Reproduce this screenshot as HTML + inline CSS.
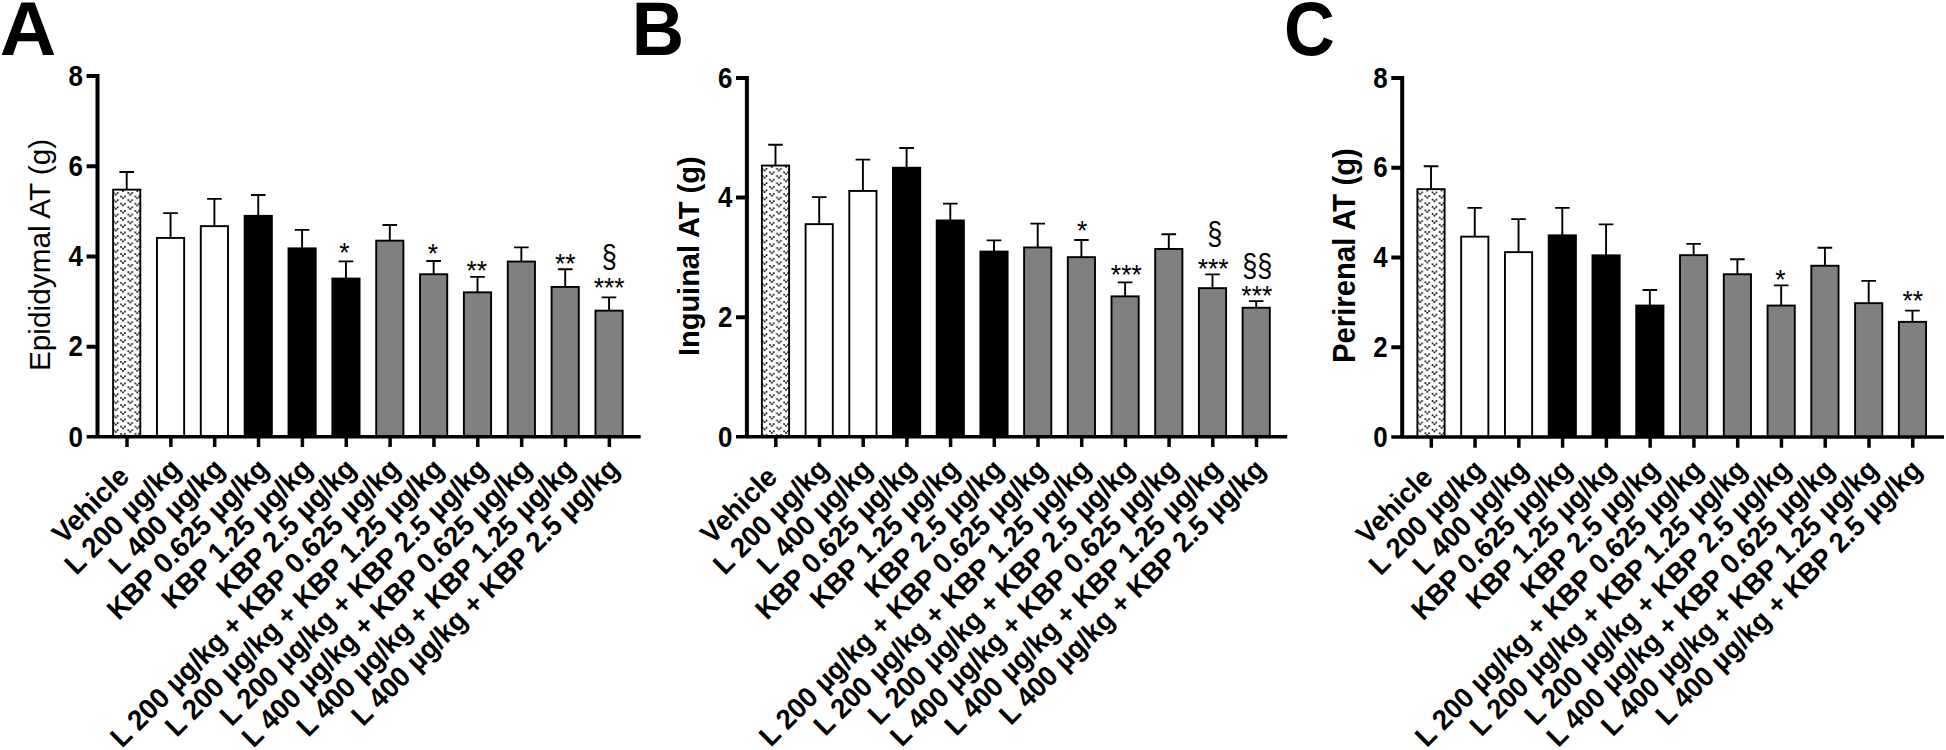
<!DOCTYPE html>
<html lang="en"><head><meta charset="utf-8"><title>Adipose tissue weights</title>
<style>html,body{margin:0;padding:0;background:#fff;}body{width:1946px;height:750px;overflow:hidden;}svg{display:block;}text{font-family:"Liberation Sans", sans-serif;fill:#000;}</style></head><body>
<svg width="1946" height="750" viewBox="0 0 1946 750">
<defs><pattern id="dots0" patternUnits="userSpaceOnUse" width="14.3" height="7.19" x="108.7" y="191.1"><g fill="#000"><circle cx="5.2" cy="1.8" r="0.9"/><circle cx="7.15" cy="3.7" r="0.9"/><circle cx="9.1" cy="1.8" r="0.9"/><path d="M5.2 1.8 L7.15 3.7 L9.1 1.8" stroke="#000" stroke-width="0.6" fill="none"/><circle cx="-1.95" cy="5.4" r="0.9"/><circle cx="0" cy="7.29" r="0.9"/><circle cx="1.95" cy="5.4" r="0.9"/><path d="M-1.95 5.4 L0 7.29 L1.95 5.4" stroke="#000" stroke-width="0.6" fill="none"/><circle cx="12.35" cy="5.4" r="0.9"/><circle cx="14.3" cy="7.29" r="0.9"/><circle cx="16.25" cy="5.4" r="0.9"/><path d="M12.35 5.4 L14.3 7.29 L16.25 5.4" stroke="#000" stroke-width="0.6" fill="none"/><circle cx="-1.95" cy="-1.8" r="0.9"/><circle cx="0" cy="0.1" r="0.9"/><circle cx="1.95" cy="-1.8" r="0.9"/><path d="M-1.95 -1.8 L0 0.1 L1.95 -1.8" stroke="#000" stroke-width="0.6" fill="none"/><circle cx="12.35" cy="-1.8" r="0.9"/><circle cx="14.3" cy="0.1" r="0.9"/><circle cx="16.25" cy="-1.8" r="0.9"/><path d="M12.35 -1.8 L14.3 0.1 L16.25 -1.8" stroke="#000" stroke-width="0.6" fill="none"/></g></pattern><pattern id="dots1" patternUnits="userSpaceOnUse" width="14.3" height="7.19" x="757.5" y="167"><g fill="#000"><circle cx="5.2" cy="1.8" r="0.9"/><circle cx="7.15" cy="3.7" r="0.9"/><circle cx="9.1" cy="1.8" r="0.9"/><path d="M5.2 1.8 L7.15 3.7 L9.1 1.8" stroke="#000" stroke-width="0.6" fill="none"/><circle cx="-1.95" cy="5.4" r="0.9"/><circle cx="0" cy="7.29" r="0.9"/><circle cx="1.95" cy="5.4" r="0.9"/><path d="M-1.95 5.4 L0 7.29 L1.95 5.4" stroke="#000" stroke-width="0.6" fill="none"/><circle cx="12.35" cy="5.4" r="0.9"/><circle cx="14.3" cy="7.29" r="0.9"/><circle cx="16.25" cy="5.4" r="0.9"/><path d="M12.35 5.4 L14.3 7.29 L16.25 5.4" stroke="#000" stroke-width="0.6" fill="none"/><circle cx="-1.95" cy="-1.8" r="0.9"/><circle cx="0" cy="0.1" r="0.9"/><circle cx="1.95" cy="-1.8" r="0.9"/><path d="M-1.95 -1.8 L0 0.1 L1.95 -1.8" stroke="#000" stroke-width="0.6" fill="none"/><circle cx="12.35" cy="-1.8" r="0.9"/><circle cx="14.3" cy="0.1" r="0.9"/><circle cx="16.25" cy="-1.8" r="0.9"/><path d="M12.35 -1.8 L14.3 0.1 L16.25 -1.8" stroke="#000" stroke-width="0.6" fill="none"/></g></pattern><pattern id="dots2" patternUnits="userSpaceOnUse" width="14.3" height="7.19" x="1413" y="190.6"><g fill="#000"><circle cx="5.2" cy="1.8" r="0.9"/><circle cx="7.15" cy="3.7" r="0.9"/><circle cx="9.1" cy="1.8" r="0.9"/><path d="M5.2 1.8 L7.15 3.7 L9.1 1.8" stroke="#000" stroke-width="0.6" fill="none"/><circle cx="-1.95" cy="5.4" r="0.9"/><circle cx="0" cy="7.29" r="0.9"/><circle cx="1.95" cy="5.4" r="0.9"/><path d="M-1.95 5.4 L0 7.29 L1.95 5.4" stroke="#000" stroke-width="0.6" fill="none"/><circle cx="12.35" cy="5.4" r="0.9"/><circle cx="14.3" cy="7.29" r="0.9"/><circle cx="16.25" cy="5.4" r="0.9"/><path d="M12.35 5.4 L14.3 7.29 L16.25 5.4" stroke="#000" stroke-width="0.6" fill="none"/><circle cx="-1.95" cy="-1.8" r="0.9"/><circle cx="0" cy="0.1" r="0.9"/><circle cx="1.95" cy="-1.8" r="0.9"/><path d="M-1.95 -1.8 L0 0.1 L1.95 -1.8" stroke="#000" stroke-width="0.6" fill="none"/><circle cx="12.35" cy="-1.8" r="0.9"/><circle cx="14.3" cy="0.1" r="0.9"/><circle cx="16.25" cy="-1.8" r="0.9"/><path d="M12.35 -1.8 L14.3 0.1 L16.25 -1.8" stroke="#000" stroke-width="0.6" fill="none"/></g></pattern></defs>
<rect width="1946" height="750" fill="#fff"/>
<g>
<text transform="translate(-0.2 55) scale(1.08 1.04)" font-size="72.5" font-weight="bold">A</text>
<path d="M126.7 189.65 V172 M119.4 172 H134" stroke="#000" stroke-width="1.9" fill="none"/>
<rect x="113.1" y="189.65" width="27.2" height="247.2" fill="url(#dots0)" stroke="#000" stroke-width="1.9"/>
<path d="M170.55 237.95 V213.1 M163.25 213.1 H177.85" stroke="#000" stroke-width="1.9" fill="none"/>
<rect x="156.95" y="237.95" width="27.2" height="198.9" fill="#fff" stroke="#000" stroke-width="1.9"/>
<path d="M214.4 226.15 V198.9 M207.1 198.9 H221.7" stroke="#000" stroke-width="1.9" fill="none"/>
<rect x="200.8" y="226.15" width="27.2" height="210.7" fill="#fff" stroke="#000" stroke-width="1.9"/>
<path d="M258.25 215.85 V195 M250.95 195 H265.55" stroke="#000" stroke-width="1.9" fill="none"/>
<rect x="244.65" y="215.85" width="27.2" height="221" fill="#000" stroke="#000" stroke-width="1.9"/>
<path d="M302.1 248.35 V229.9 M294.8 229.9 H309.4" stroke="#000" stroke-width="1.9" fill="none"/>
<rect x="288.5" y="248.35" width="27.2" height="188.5" fill="#000" stroke="#000" stroke-width="1.9"/>
<path d="M345.95 278.55 V261.4 M338.65 261.4 H353.25" stroke="#000" stroke-width="1.9" fill="none"/>
<rect x="332.35" y="278.55" width="27.2" height="158.3" fill="#000" stroke="#000" stroke-width="1.9"/>
<path d="M389.8 240.65 V225 M382.5 225 H397.1" stroke="#000" stroke-width="1.9" fill="none"/>
<rect x="376.2" y="240.65" width="27.2" height="196.2" fill="#808080" stroke="#000" stroke-width="1.9"/>
<path d="M433.65 274.25 V261 M426.35 261 H440.95" stroke="#000" stroke-width="1.9" fill="none"/>
<rect x="420.05" y="274.25" width="27.2" height="162.6" fill="#808080" stroke="#000" stroke-width="1.9"/>
<path d="M477.5 292.35 V276.9 M470.2 276.9 H484.8" stroke="#000" stroke-width="1.9" fill="none"/>
<rect x="463.9" y="292.35" width="27.2" height="144.5" fill="#808080" stroke="#000" stroke-width="1.9"/>
<path d="M521.35 261.55 V247.4 M514.05 247.4 H528.65" stroke="#000" stroke-width="1.9" fill="none"/>
<rect x="507.75" y="261.55" width="27.2" height="175.3" fill="#808080" stroke="#000" stroke-width="1.9"/>
<path d="M565.2 286.95 V269.3 M557.9 269.3 H572.5" stroke="#000" stroke-width="1.9" fill="none"/>
<rect x="551.6" y="286.95" width="27.2" height="149.9" fill="#808080" stroke="#000" stroke-width="1.9"/>
<path d="M609.05 310.65 V297.4 M601.75 297.4 H616.35" stroke="#000" stroke-width="1.9" fill="none"/>
<rect x="595.45" y="310.65" width="27.2" height="126.2" fill="#808080" stroke="#000" stroke-width="1.9"/>
<path d="M97.5 74 V436.85" stroke="#000" stroke-width="4" fill="none"/>
<path d="M86.6 436.85 H640.7" stroke="#000" stroke-width="3.5" fill="none"/>
<path d="M86.6 346.64 H97.5 M86.6 256.43 H97.5 M86.6 166.21 H97.5 M86.6 76 H97.5" stroke="#000" stroke-width="4" fill="none"/>
<text transform="translate(83 446.55) scale(0.95 1.095)" font-size="27.3" font-weight="bold" text-anchor="end">0</text>
<text transform="translate(83 356.34) scale(0.95 1.095)" font-size="27.3" font-weight="bold" text-anchor="end">2</text>
<text transform="translate(83 266.12) scale(0.95 1.095)" font-size="27.3" font-weight="bold" text-anchor="end">4</text>
<text transform="translate(83 175.91) scale(0.95 1.095)" font-size="27.3" font-weight="bold" text-anchor="end">6</text>
<text transform="translate(83 85.7) scale(0.95 1.095)" font-size="27.3" font-weight="bold" text-anchor="end">8</text>
<path d="M127 436.85 V447 M170.85 436.85 V447 M214.7 436.85 V447 M258.55 436.85 V447 M302.4 436.85 V447 M346.25 436.85 V447 M390.1 436.85 V447 M433.95 436.85 V447 M477.8 436.85 V447 M521.65 436.85 V447 M565.5 436.85 V447 M609.35 436.85 V447" stroke="#000" stroke-width="3.5" fill="none"/>
<text transform="translate(130.8 478.25) rotate(-44.87) scale(1 1.04)" font-size="27.45" font-weight="bold" text-anchor="end">Vehicle</text>
<text transform="translate(182.35 470.55) rotate(-44.87) scale(1 1.04)" font-size="27.45" font-weight="bold" text-anchor="end">L 200 µg/kg</text>
<text transform="translate(226.2 470.55) rotate(-44.87) scale(1 1.04)" font-size="27.45" font-weight="bold" text-anchor="end">L 400 µg/kg</text>
<text transform="translate(270.05 470.55) rotate(-44.87) scale(1 1.04)" font-size="27.45" font-weight="bold" text-anchor="end">KBP 0.625 µg/kg</text>
<text transform="translate(313.9 470.55) rotate(-44.87) scale(1 1.04)" font-size="27.45" font-weight="bold" text-anchor="end">KBP 1.25 µg/kg</text>
<text transform="translate(357.75 470.55) rotate(-44.87) scale(1 1.04)" font-size="27.45" font-weight="bold" text-anchor="end">KBP 2.5 µg/kg</text>
<text transform="translate(401.6 470.55) rotate(-44.87) scale(1 1.04)" font-size="27.45" font-weight="bold" text-anchor="end">L 200 µg/kg + KBP 0.625 µg/kg</text>
<text transform="translate(445.45 470.55) rotate(-44.87) scale(1 1.04)" font-size="27.45" font-weight="bold" text-anchor="end">L 200 µg/kg + KBP 1.25 µg/kg</text>
<text transform="translate(489.3 470.55) rotate(-44.87) scale(1 1.04)" font-size="27.45" font-weight="bold" text-anchor="end">L 200 µg/kg + KBP 2.5 µg/kg</text>
<text transform="translate(533.15 470.55) rotate(-44.87) scale(1 1.04)" font-size="27.45" font-weight="bold" text-anchor="end">L 400 µg/kg + KBP 0.625 µg/kg</text>
<text transform="translate(577 470.55) rotate(-44.87) scale(1 1.04)" font-size="27.45" font-weight="bold" text-anchor="end">L 400 µg/kg + KBP 1.25 µg/kg</text>
<text transform="translate(620.85 470.55) rotate(-44.87) scale(1 1.04)" font-size="27.45" font-weight="bold" text-anchor="end">L 400 µg/kg + KBP 2.5 µg/kg</text>
<text transform="translate(49.7 254.9) rotate(-90) scale(1 1.01)" font-size="29.8" text-anchor="middle">Epididymal AT (g)</text>
<text transform="translate(344.5 261.8) scale(1 1.04)" font-size="26.5" text-anchor="middle">*</text>
<text transform="translate(432.8 263.2) scale(1 1.04)" font-size="26.5" text-anchor="middle">*</text>
<text transform="translate(476.7 280) scale(1 1.04)" font-size="26.5" text-anchor="middle">**</text>
<text transform="translate(565.3 272.5) scale(1 1.04)" font-size="26.5" text-anchor="middle">**</text>
<text transform="translate(609.2 297.2) scale(1 1.04)" font-size="26.5" text-anchor="middle">***</text>
<text transform="translate(609.2 266.8) scale(1.03 1.2)" font-size="26.3" text-anchor="middle">§</text>
</g>
<g>
<text transform="translate(631.8 55.3) scale(1 1.04)" font-size="72.5" font-weight="bold">B</text>
<path d="M775.5 165.55 V144.8 M768.2 144.8 H782.8" stroke="#000" stroke-width="1.9" fill="none"/>
<rect x="761.9" y="165.55" width="27.2" height="271.3" fill="url(#dots1)" stroke="#000" stroke-width="1.9"/>
<path d="M819.2 224.15 V197.1 M811.9 197.1 H826.5" stroke="#000" stroke-width="1.9" fill="none"/>
<rect x="805.6" y="224.15" width="27.2" height="212.7" fill="#fff" stroke="#000" stroke-width="1.9"/>
<path d="M862.9 190.95 V159.6 M855.6 159.6 H870.2" stroke="#000" stroke-width="1.9" fill="none"/>
<rect x="849.3" y="190.95" width="27.2" height="245.9" fill="#fff" stroke="#000" stroke-width="1.9"/>
<path d="M906.6 167.75 V148 M899.3 148 H913.9" stroke="#000" stroke-width="1.9" fill="none"/>
<rect x="893" y="167.75" width="27.2" height="269.1" fill="#000" stroke="#000" stroke-width="1.9"/>
<path d="M950.3 220.45 V203.6 M943 203.6 H957.6" stroke="#000" stroke-width="1.9" fill="none"/>
<rect x="936.7" y="220.45" width="27.2" height="216.4" fill="#000" stroke="#000" stroke-width="1.9"/>
<path d="M994 251.55 V240.4 M986.7 240.4 H1001.3" stroke="#000" stroke-width="1.9" fill="none"/>
<rect x="980.4" y="251.55" width="27.2" height="185.3" fill="#000" stroke="#000" stroke-width="1.9"/>
<path d="M1037.7 247.45 V223.6 M1030.4 223.6 H1045" stroke="#000" stroke-width="1.9" fill="none"/>
<rect x="1024.1" y="247.45" width="27.2" height="189.4" fill="#808080" stroke="#000" stroke-width="1.9"/>
<path d="M1081.4 257.15 V240 M1074.1 240 H1088.7" stroke="#000" stroke-width="1.9" fill="none"/>
<rect x="1067.8" y="257.15" width="27.2" height="179.7" fill="#808080" stroke="#000" stroke-width="1.9"/>
<path d="M1125.1 296.35 V282.4 M1117.8 282.4 H1132.4" stroke="#000" stroke-width="1.9" fill="none"/>
<rect x="1111.5" y="296.35" width="27.2" height="140.5" fill="#808080" stroke="#000" stroke-width="1.9"/>
<path d="M1168.8 248.95 V234.2 M1161.5 234.2 H1176.1" stroke="#000" stroke-width="1.9" fill="none"/>
<rect x="1155.2" y="248.95" width="27.2" height="187.9" fill="#808080" stroke="#000" stroke-width="1.9"/>
<path d="M1212.5 288.15 V274.4 M1205.2 274.4 H1219.8" stroke="#000" stroke-width="1.9" fill="none"/>
<rect x="1198.9" y="288.15" width="27.2" height="148.7" fill="#808080" stroke="#000" stroke-width="1.9"/>
<path d="M1256.2 307.75 V301.1 M1248.9 301.1 H1263.5" stroke="#000" stroke-width="1.9" fill="none"/>
<rect x="1242.6" y="307.75" width="27.2" height="129.1" fill="#808080" stroke="#000" stroke-width="1.9"/>
<path d="M746.9 76 V436.85" stroke="#000" stroke-width="4" fill="none"/>
<path d="M736 436.85 H1287.2" stroke="#000" stroke-width="3.5" fill="none"/>
<path d="M736 317.23 H746.9 M736 197.62 H746.9 M736 78 H746.9" stroke="#000" stroke-width="4" fill="none"/>
<text transform="translate(732.4 446.55) scale(0.95 1.095)" font-size="27.3" font-weight="bold" text-anchor="end">0</text>
<text transform="translate(732.4 326.93) scale(0.95 1.095)" font-size="27.3" font-weight="bold" text-anchor="end">2</text>
<text transform="translate(732.4 207.32) scale(0.95 1.095)" font-size="27.3" font-weight="bold" text-anchor="end">4</text>
<text transform="translate(732.4 87.7) scale(0.95 1.095)" font-size="27.3" font-weight="bold" text-anchor="end">6</text>
<path d="M775.8 436.85 V447 M819.5 436.85 V447 M863.2 436.85 V447 M906.9 436.85 V447 M950.6 436.85 V447 M994.3 436.85 V447 M1038 436.85 V447 M1081.7 436.85 V447 M1125.4 436.85 V447 M1169.1 436.85 V447 M1212.8 436.85 V447 M1256.5 436.85 V447" stroke="#000" stroke-width="3.5" fill="none"/>
<text transform="translate(778.8 478.75) rotate(-44.87) scale(1 1.04)" font-size="27.3" font-weight="bold" text-anchor="end">Vehicle</text>
<text transform="translate(830.2 471.05) rotate(-44.87) scale(1 1.04)" font-size="27.3" font-weight="bold" text-anchor="end">L 200 µg/kg</text>
<text transform="translate(873.9 471.05) rotate(-44.87) scale(1 1.04)" font-size="27.3" font-weight="bold" text-anchor="end">L 400 µg/kg</text>
<text transform="translate(917.6 471.05) rotate(-44.87) scale(1 1.04)" font-size="27.3" font-weight="bold" text-anchor="end">KBP 0.625 µg/kg</text>
<text transform="translate(961.3 471.05) rotate(-44.87) scale(1 1.04)" font-size="27.3" font-weight="bold" text-anchor="end">KBP 1.25 µg/kg</text>
<text transform="translate(1005 471.05) rotate(-44.87) scale(1 1.04)" font-size="27.3" font-weight="bold" text-anchor="end">KBP 2.5 µg/kg</text>
<text transform="translate(1048.7 471.05) rotate(-44.87) scale(1 1.04)" font-size="27.3" font-weight="bold" text-anchor="end">L 200 µg/kg + KBP 0.625 µg/kg</text>
<text transform="translate(1092.4 471.05) rotate(-44.87) scale(1 1.04)" font-size="27.3" font-weight="bold" text-anchor="end">L 200 µg/kg + KBP 1.25 µg/kg</text>
<text transform="translate(1136.1 471.05) rotate(-44.87) scale(1 1.04)" font-size="27.3" font-weight="bold" text-anchor="end">L 200 µg/kg + KBP 2.5 µg/kg</text>
<text transform="translate(1179.8 471.05) rotate(-44.87) scale(1 1.04)" font-size="27.3" font-weight="bold" text-anchor="end">L 400 µg/kg + KBP 0.625 µg/kg</text>
<text transform="translate(1223.5 471.05) rotate(-44.87) scale(1 1.04)" font-size="27.3" font-weight="bold" text-anchor="end">L 400 µg/kg + KBP 1.25 µg/kg</text>
<text transform="translate(1267.2 471.05) rotate(-44.87) scale(1 1.04)" font-size="27.3" font-weight="bold" text-anchor="end">L 400 µg/kg + KBP 2.5 µg/kg</text>
<text transform="translate(699 256.25) rotate(-90) scale(1 1.04)" font-size="29" font-weight="bold" text-anchor="middle">Inguinal AT (g)</text>
<text transform="translate(1082.2 240.1) scale(1 1.04)" font-size="26.5" text-anchor="middle">*</text>
<text transform="translate(1126.3 284) scale(1 1.04)" font-size="26.5" text-anchor="middle">***</text>
<text transform="translate(1213.1 277.5) scale(1 1.04)" font-size="26.5" text-anchor="middle">***</text>
<text transform="translate(1214.8 244.1) scale(1.03 1.2)" font-size="26.3" text-anchor="middle">§</text>
<text transform="translate(1256.8 305.1) scale(1 1.04)" font-size="26.5" text-anchor="middle">***</text>
<text transform="translate(1257.3 276.1) scale(1.03 1.2)" font-size="26.3" text-anchor="middle">§§</text>
</g>
<g>
<text transform="translate(1284 55.3) scale(0.97 1.04)" font-size="72.5" font-weight="bold">C</text>
<path d="M1431 189.15 V166.3 M1423.7 166.3 H1438.3" stroke="#000" stroke-width="1.9" fill="none"/>
<rect x="1417.4" y="189.15" width="27.2" height="247.85" fill="url(#dots2)" stroke="#000" stroke-width="1.9"/>
<path d="M1474.77 236.65 V207.9 M1467.47 207.9 H1482.07" stroke="#000" stroke-width="1.9" fill="none"/>
<rect x="1461.17" y="236.65" width="27.2" height="200.35" fill="#fff" stroke="#000" stroke-width="1.9"/>
<path d="M1518.54 252.15 V219.1 M1511.24 219.1 H1525.84" stroke="#000" stroke-width="1.9" fill="none"/>
<rect x="1504.94" y="252.15" width="27.2" height="184.85" fill="#fff" stroke="#000" stroke-width="1.9"/>
<path d="M1562.31 235.35 V207.9 M1555.01 207.9 H1569.61" stroke="#000" stroke-width="1.9" fill="none"/>
<rect x="1548.71" y="235.35" width="27.2" height="201.65" fill="#000" stroke="#000" stroke-width="1.9"/>
<path d="M1606.08 255.35 V224.4 M1598.78 224.4 H1613.38" stroke="#000" stroke-width="1.9" fill="none"/>
<rect x="1592.48" y="255.35" width="27.2" height="181.65" fill="#000" stroke="#000" stroke-width="1.9"/>
<path d="M1649.85 305.55 V290 M1642.55 290 H1657.15" stroke="#000" stroke-width="1.9" fill="none"/>
<rect x="1636.25" y="305.55" width="27.2" height="131.45" fill="#000" stroke="#000" stroke-width="1.9"/>
<path d="M1693.62 255.15 V243.9 M1686.32 243.9 H1700.92" stroke="#000" stroke-width="1.9" fill="none"/>
<rect x="1680.02" y="255.15" width="27.2" height="181.85" fill="#808080" stroke="#000" stroke-width="1.9"/>
<path d="M1737.39 274.25 V259.3 M1730.09 259.3 H1744.69" stroke="#000" stroke-width="1.9" fill="none"/>
<rect x="1723.79" y="274.25" width="27.2" height="162.75" fill="#808080" stroke="#000" stroke-width="1.9"/>
<path d="M1781.16 305.55 V285.4 M1773.86 285.4 H1788.46" stroke="#000" stroke-width="1.9" fill="none"/>
<rect x="1767.56" y="305.55" width="27.2" height="131.45" fill="#808080" stroke="#000" stroke-width="1.9"/>
<path d="M1824.93 265.75 V247.8 M1817.63 247.8 H1832.23" stroke="#000" stroke-width="1.9" fill="none"/>
<rect x="1811.33" y="265.75" width="27.2" height="171.25" fill="#808080" stroke="#000" stroke-width="1.9"/>
<path d="M1868.7 303.15 V280.9 M1861.4 280.9 H1876" stroke="#000" stroke-width="1.9" fill="none"/>
<rect x="1855.1" y="303.15" width="27.2" height="133.85" fill="#808080" stroke="#000" stroke-width="1.9"/>
<path d="M1912.47 321.85 V310.6 M1905.17 310.6 H1919.77" stroke="#000" stroke-width="1.9" fill="none"/>
<rect x="1898.87" y="321.85" width="27.2" height="115.15" fill="#808080" stroke="#000" stroke-width="1.9"/>
<path d="M1402.2 76 V437" stroke="#000" stroke-width="4" fill="none"/>
<path d="M1391.3 437 H1944" stroke="#000" stroke-width="3.5" fill="none"/>
<path d="M1391.3 347.25 H1402.2 M1391.3 257.5 H1402.2 M1391.3 167.75 H1402.2 M1391.3 78 H1402.2" stroke="#000" stroke-width="4" fill="none"/>
<text transform="translate(1387.7 446.7) scale(0.95 1.095)" font-size="27.3" font-weight="bold" text-anchor="end">0</text>
<text transform="translate(1387.7 356.95) scale(0.95 1.095)" font-size="27.3" font-weight="bold" text-anchor="end">2</text>
<text transform="translate(1387.7 267.2) scale(0.95 1.095)" font-size="27.3" font-weight="bold" text-anchor="end">4</text>
<text transform="translate(1387.7 177.45) scale(0.95 1.095)" font-size="27.3" font-weight="bold" text-anchor="end">6</text>
<text transform="translate(1387.7 87.7) scale(0.95 1.095)" font-size="27.3" font-weight="bold" text-anchor="end">8</text>
<path d="M1431.3 437 V447.7 M1475.07 437 V447.7 M1518.84 437 V447.7 M1562.61 437 V447.7 M1606.38 437 V447.7 M1650.15 437 V447.7 M1693.92 437 V447.7 M1737.69 437 V447.7 M1781.46 437 V447.7 M1825.23 437 V447.7 M1869 437 V447.7 M1912.77 437 V447.7" stroke="#000" stroke-width="3.5" fill="none"/>
<text transform="translate(1434.5 479.25) rotate(-44.87) scale(1 1.04)" font-size="27.3" font-weight="bold" text-anchor="end">Vehicle</text>
<text transform="translate(1485.97 471.55) rotate(-44.87) scale(1 1.04)" font-size="27.3" font-weight="bold" text-anchor="end">L 200 µg/kg</text>
<text transform="translate(1529.74 471.55) rotate(-44.87) scale(1 1.04)" font-size="27.3" font-weight="bold" text-anchor="end">L 400 µg/kg</text>
<text transform="translate(1573.51 471.55) rotate(-44.87) scale(1 1.04)" font-size="27.3" font-weight="bold" text-anchor="end">KBP 0.625 µg/kg</text>
<text transform="translate(1617.28 471.55) rotate(-44.87) scale(1 1.04)" font-size="27.3" font-weight="bold" text-anchor="end">KBP 1.25 µg/kg</text>
<text transform="translate(1661.05 471.55) rotate(-44.87) scale(1 1.04)" font-size="27.3" font-weight="bold" text-anchor="end">KBP 2.5 µg/kg</text>
<text transform="translate(1704.82 471.55) rotate(-44.87) scale(1 1.04)" font-size="27.3" font-weight="bold" text-anchor="end">L 200 µg/kg + KBP 0.625 µg/kg</text>
<text transform="translate(1748.59 471.55) rotate(-44.87) scale(1 1.04)" font-size="27.3" font-weight="bold" text-anchor="end">L 200 µg/kg + KBP 1.25 µg/kg</text>
<text transform="translate(1792.36 471.55) rotate(-44.87) scale(1 1.04)" font-size="27.3" font-weight="bold" text-anchor="end">L 200 µg/kg + KBP 2.5 µg/kg</text>
<text transform="translate(1836.13 471.55) rotate(-44.87) scale(1 1.04)" font-size="27.3" font-weight="bold" text-anchor="end">L 400 µg/kg + KBP 0.625 µg/kg</text>
<text transform="translate(1879.9 471.55) rotate(-44.87) scale(1 1.04)" font-size="27.3" font-weight="bold" text-anchor="end">L 400 µg/kg + KBP 1.25 µg/kg</text>
<text transform="translate(1923.67 471.55) rotate(-44.87) scale(1 1.04)" font-size="27.3" font-weight="bold" text-anchor="end">L 400 µg/kg + KBP 2.5 µg/kg</text>
<text transform="translate(1355.1 255.6) rotate(-90) scale(1 1.04)" font-size="29.3" font-weight="bold" text-anchor="middle">Perirenal AT (g)</text>
<text transform="translate(1780.4 289.1) scale(1 1.04)" font-size="26.5" text-anchor="middle">*</text>
<text transform="translate(1912.8 309.7) scale(1 1.04)" font-size="26.5" text-anchor="middle">**</text>
</g>
</svg></body></html>
